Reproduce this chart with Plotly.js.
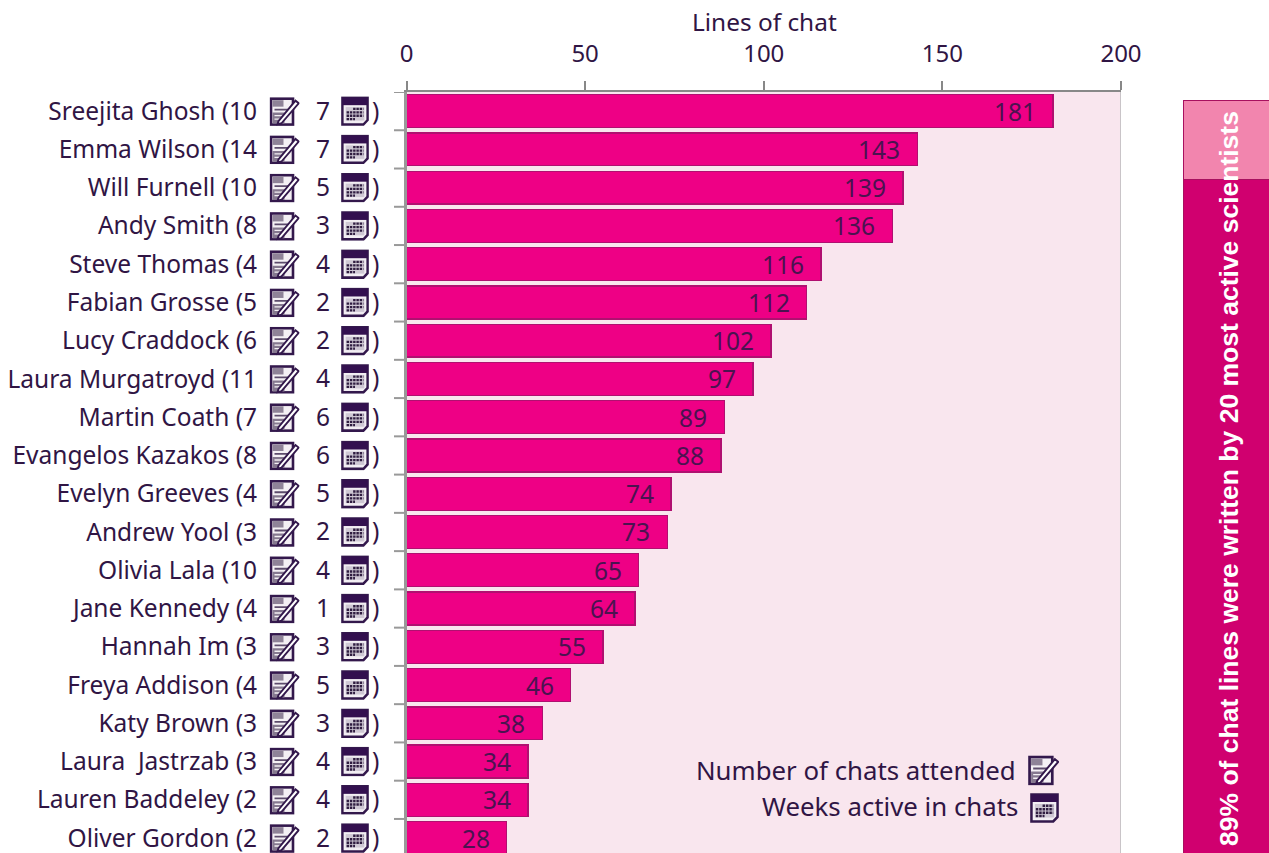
<!DOCTYPE html>
<html><head><meta charset="utf-8">
<script src="https://cdn.plot.ly/plotly-3.0.1.min.js"></script>
<style>html,body{margin:0;padding:0;background:#fff;overflow:hidden}</style>
</head><body><div id="chart" style="width:1269px;height:853px"></div>
<script>
const names=["Sreejita Ghosh","Emma Wilson","Will Furnell","Andy Smith","Steve Thomas","Fabian Grosse","Lucy Craddock","Laura Murgatroyd","Martin Coath","Evangelos Kazakos","Evelyn Greeves","Andrew Yool","Olivia Lala","Jane Kennedy","Hannah Im","Freya Addison","Katy Brown","Laura\u00A0\u00A0Jastrzab","Lauren Baddeley","Oliver Gordon"];
const chats=[10,14,10,8,4,5,6,11,7,8,4,3,10,4,3,4,3,3,2,2];
const weeks=[7,7,5,3,4,2,2,4,6,6,5,2,4,1,3,5,3,4,4,2];
const lines=[181,143,139,136,116,112,102,97,89,88,74,73,65,64,55,46,38,34,34,28];
const shareLabels=["Top 20","Others"];
const shareValues=[89.5,10.5];
const panelText="89% of chat lines were written by 20 most active scientists";
const legendTexts=["Number of chats attended","Weeks active in chats"];
const axisTitle="Lines of chat";

const W=1269,H=853,T=92;
const ink="#301544";
const font="'Noto Sans',sans-serif";
const px=v=>v/W;
const noteSvg='<svg xmlns="http://www.w3.org/2000/svg" viewBox="0 0 30 30"><rect x="1.5" y="2.5" width="22" height="26" fill="#f4f0f4" stroke="#33184c" stroke-width="2.6"/><rect x="3" y="4" width="11" height="6.5" fill="#8f8398"/><path d="M5 13.5h15" stroke="#5d4c6c" stroke-width="1.8"/><path d="M3 16.5h12v11H3z" fill="#85788f"/><path d="M5 19.5h8M5 23h6" stroke="#f4f0f4" stroke-width="1.4"/><path d="M9 25L26 4.5l3.2 2.6L12 27.2l-4 1z" fill="#fff" stroke="#33184c" stroke-width="1.9"/></svg>';
const calSvg='<svg xmlns="http://www.w3.org/2000/svg" viewBox="0 0 30 30"><path d="M1.5 1.5h27v22.5l-4.5 4.5h-22.5z" fill="#f2eef3" stroke="#33184c" stroke-width="2.6"/><rect x="1.5" y="1.5" width="27" height="7.5" fill="#33104f"/><rect x="5" y="11" width="20" height="13.5" fill="#cfc8d4"/><path d="M13 12.7h11M6 16.2h18M6 19.7h18M6 23h9" stroke="#2f1c40" stroke-width="2.4" stroke-dasharray="2.6 0.9"/></svg>';
const uri=s=>"data:image/svg+xml;charset=utf-8,"+encodeURIComponent(s);

const annotations=[];
const images=[];
names.forEach((n,i)=>{
  annotations.push({x:lines[i],y:i,xref:"x",yref:"y",text:String(lines[i]),showarrow:false,xanchor:"right",xshift:-15,font:{family:font,size:24.5,color:"#4a1350"}});
  annotations.push({x:px(323),y:i,xref:"paper",yref:"y",text:String(weeks[i]),showarrow:false,xanchor:"center",yshift:1,font:{family:font,size:24.5,color:ink}});
  annotations.push({x:px(375),y:i,xref:"paper",yref:"y",text:")",showarrow:false,xanchor:"center",yshift:1,font:{family:font,size:24.5,color:ink}});
  images.push({source:uri(noteSvg),xref:"paper",yref:"y",x:px(269.5),y:i,sizex:px(30),sizey:0.78,xanchor:"left",yanchor:"middle",sizing:"stretch",layer:"above"});
  images.push({source:uri(calSvg),xref:"paper",yref:"y",x:px(341),y:i,sizex:px(28),sizey:0.78,xanchor:"left",yanchor:"middle",sizing:"stretch",layer:"above"});
});
const py=v=>(H-v)/(H-T);
annotations.push({x:px(764),y:py(21),xref:"paper",yref:"paper",text:axisTitle,showarrow:false,xanchor:"center",yanchor:"middle",font:{family:font,size:24.4,color:ink}});
annotations.push({x:px(1018),y:py(770),xref:"paper",yref:"paper",text:legendTexts[0],showarrow:false,xanchor:"right",yanchor:"middle",font:{family:font,size:25.8,color:ink}});
annotations.push({x:px(1019.5),y:py(806),xref:"paper",yref:"paper",text:legendTexts[1],showarrow:false,xanchor:"right",yanchor:"middle",font:{family:font,size:25.8,color:ink}});
images.push({source:uri(noteSvg),xref:"paper",yref:"paper",x:px(1028),y:py(770),sizex:px(31),sizey:31/(H-T),xanchor:"left",yanchor:"middle",sizing:"stretch",layer:"above"});
images.push({source:uri(calSvg),xref:"paper",yref:"paper",x:px(1030),y:py(808),sizex:px(29),sizey:30/(H-T),xanchor:"left",yanchor:"middle",sizing:"stretch",layer:"above"});
annotations.push({x:px(1229),y:py(479),xref:"paper",yref:"paper",text:"<b>"+panelText+"</b>",textangle:-90,showarrow:false,xanchor:"center",yanchor:"middle",font:{family:"'Liberation Sans',Arial,sans-serif",size:26.5,color:"#fff"}});

const traces=[
 {type:"bar",orientation:"h",x:lines,y:names.map((_,i)=>i),xaxis:"x",yaxis:"y",marker:{color:"#EE0085",line:{color:"#b01070",width:1.3}},hoverinfo:"x+y"},
 {type:"bar",x:[shareLabels[0]],y:[shareValues[0]],xaxis:"x2",yaxis:"y2",marker:{color:"#D0006F",line:{color:"#A8105F",width:1}},width:1},
 {type:"bar",x:[shareLabels[0]],y:[shareValues[1]],xaxis:"x2",yaxis:"y2",marker:{color:"#F285AE",line:{color:"#A8105F",width:1}},width:1}
];
const layout={
 width:W,height:H,margin:{l:0,r:0,t:T,b:0,pad:0},paper_bgcolor:"#fff",plot_bgcolor:"#fff",showlegend:false,barmode:"stack",bargap:0.14,
 xaxis:{domain:[px(406.5),px(1121)],range:[0,200],side:"top",anchor:"y",tickvals:[0,50,100,150,200],ticks:"outside",ticklen:9,tickwidth:2,tickcolor:"#888",showline:true,linecolor:"#888",linewidth:2.5,showgrid:false,zeroline:false,
   ticklabelstandoff:9,tickfont:{family:font,size:24,color:ink}},
 yaxis:{domain:[0,1],range:[19.39,-0.5],anchor:"x",type:"linear",tickmode:"array",tickvals:names.map((_,i)=>i),ticktext:names.map((n,i)=>n+" ("+chats[i]),showticklabels:true,ticks:"",showline:true,linecolor:"#999",linewidth:2.5,showgrid:false,zeroline:false,ticklabelstandoff:142,ticklabeloverflow:"allow",tickfont:{family:font,size:24.5,color:ink}},
 xaxis2:{domain:[px(1183),1],anchor:"y2",type:"category",visible:false,fixedrange:true},
 yaxis2:{domain:[0,(H-100)/(H-T)],range:[0,100],anchor:"x2",visible:false,fixedrange:true},
 annotations,images,
 shapes:[
  {type:"rect",layer:"below",xref:"x",yref:"y",x0:0,x1:200,y0:-0.5,y1:19.39,fillcolor:"#F9E6EE",line:{width:0}},
  {type:"line",layer:"above",xref:"x",yref:"y",x0:200,x1:200,y0:-0.5,y1:19.39,line:{color:"#c9c4c8",width:2}},
  ...Array.from({length:20},(_,i)=>({type:"line",layer:"above",xref:"paper",yref:"y",x0:px(394),x1:px(406),y0:i-0.5,y1:i-0.5,line:{color:"#999",width:2}}))
 ]
};
Plotly.newPlot("chart",traces,layout,{displayModeBar:false,staticPlot:true});
</script></body></html>
